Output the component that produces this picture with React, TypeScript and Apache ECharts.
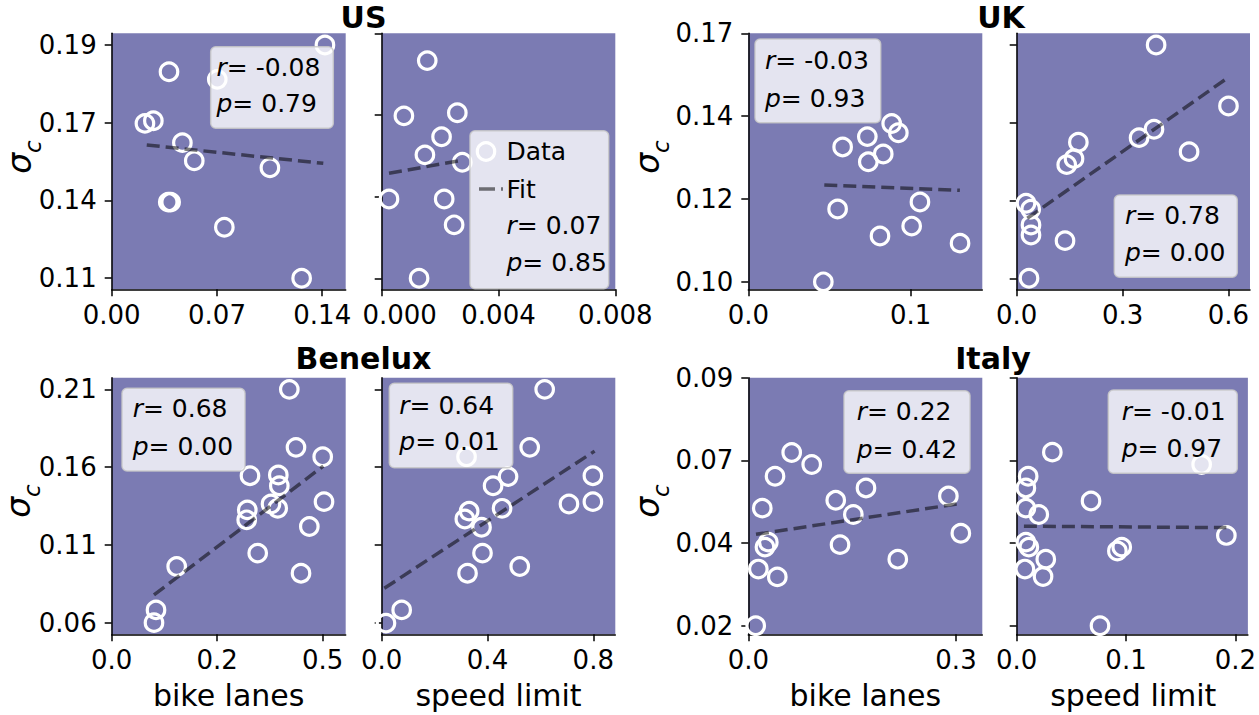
import React, { useEffect, useRef } from "react";
import * as echarts from "echarts";

// ---------------- data ----------------
const TITLES = ["US", "UK", "Benelux", "Italy"];
const X_NAMES = ["bike lanes", "speed limit"];
const Y_NAME_MAIN = "σ";
const Y_NAME_SUB = "c";

const US_BIKE_X = [0.1418, 0.0381, 0.0702, 0.0221, 0.0277, 0.047, 0.0549, 0.1052, 0.0376, 0.0392, 0.0749, 0.1263];
const US_BIKE_Y = [0.19, 0.1808, 0.1782, 0.1631, 0.164, 0.1565, 0.1503, 0.1479, 0.1361, 0.1361, 0.1275, 0.11];
const US_SPEED_X = [0.00156, 0.00076, 0.00259, 0.00205, 0.00148, 0.00276, 0.00025, 0.00214, 0.00248, 0.00128];
const US_SPEED_Y = [0.1811, 0.1631, 0.1641, 0.1563, 0.1504, 0.148, 0.136, 0.136, 0.1276, 0.1102];
const UK_BIKE_X = [0.0581, 0.0733, 0.0883, 0.0924, 0.0831, 0.0739, 0.055, 0.1057, 0.1006, 0.0811, 0.0462, 0.1304];
const UK_BIKE_Y = [0.138, 0.1409, 0.1446, 0.142, 0.136, 0.1338, 0.1205, 0.1225, 0.1157, 0.1129, 0.1, 0.1109];
const UK_SPEED_X = [0.395, 0.6, 0.3467, 0.389, 0.4884, 0.1747, 0.1624, 0.1417, 0.0264, 0.0397, 0.0405, 0.0405, 0.1369, 0.0349];
const UK_SPEED_Y = [0.17, 0.1517, 0.1422, 0.1447, 0.138, 0.1408, 0.1359, 0.1341, 0.1225, 0.1207, 0.116, 0.113, 0.1113, 0.1];
const BNL_BIKE_X = [0.4209, 0.4367, 0.5, 0.3277, 0.3948, 0.3972, 0.3775, 0.3934, 0.5031, 0.3213, 0.3199, 0.4683, 0.346, 0.4486, 0.154, 0.105, 0.1002];
const BNL_BIKE_Y = [0.21, 0.1727, 0.1667, 0.1545, 0.1549, 0.148, 0.1363, 0.1335, 0.1378, 0.1325, 0.1261, 0.1218, 0.1047, 0.0918, 0.0961, 0.0682, 0.06];
const BNL_SPEED_X = [0.6162, 0.5596, 0.3208, 0.7985, 0.4777, 0.4211, 0.7985, 0.708, 0.4551, 0.3306, 0.3143, 0.3774, 0.3811, 0.5219, 0.3245, 0.0755, 0.0162];
const BNL_SPEED_Y = [0.21, 0.1727, 0.1667, 0.1545, 0.1539, 0.148, 0.1378, 0.1363, 0.1335, 0.1317, 0.1266, 0.1213, 0.1047, 0.0961, 0.0918, 0.0682, 0.0597];
const IT_BIKE_X = [0.0627, 0.0916, 0.0386, 0.0202, 0.17, 0.1263, 0.1517, 0.289, 0.0289, 0.0241, 0.1325, 0.2159, 0.0145, 0.0419, 0.0107, 0.307];
const IT_BIKE_Y = [0.0689, 0.0655, 0.0622, 0.0532, 0.0589, 0.0554, 0.0514, 0.0566, 0.0436, 0.0422, 0.0429, 0.0388, 0.036, 0.0338, 0.02, 0.0461];
const IT_SPEED_X = [0.0326, 0.1692, 0.0105, 0.0084, 0.068, 0.0084, 0.0202, 0.1918, 0.0084, 0.0111, 0.0961, 0.0921, 0.0266, 0.0075, 0.0241, 0.0762];
const IT_SPEED_Y = [0.069, 0.0655, 0.0622, 0.0589, 0.0552, 0.0532, 0.0514, 0.0455, 0.0436, 0.0422, 0.0422, 0.0411, 0.0388, 0.036, 0.0339, 0.02];

// fit line end points [x1, y1, x2, y2]
const US_BIKE_FIT = [0.0233, 0.1557, 0.1407, 0.1494];
const US_SPEED_FIT = [0.00025, 0.1444, 0.00279, 0.1487];
const UK_BIKE_FIT = [0.0468, 0.1273, 0.1303, 0.1258];
const UK_SPEED_FIT = [0.03, 0.118, 0.6026, 0.1605];
const BNL_BIKE_FIT = [0.1002, 0.0778, 0.5014, 0.1607];
const BNL_SPEED_FIT = [0.0098, 0.0821, 0.805, 0.1703];
const IT_BIKE_FIT = [0.0111, 0.0458, 0.3058, 0.0545];
const IT_SPEED_FIT = [0.0066, 0.0481, 0.1918, 0.0477];

const R_VALUES = ["-0.08", "0.07", "-0.03", "0.78", "0.68", "0.64", "0.22", "-0.01"];
const P_VALUES = ["0.79", "0.85", "0.93", "0.00", "0.00", "0.01", "0.42", "0.97"];

const X_TICKS = [[0, 0.07, 0.14], [0, 0.004, 0.008], [0, 0.1], [0, 0.3, 0.6], [0, 0.25, 0.5], [0, 0.4, 0.8], [0, 0.3], [0, 0.1, 0.2]];
const X_TICK_LABELS = [["0.00", "0.07", "0.14"], ["0.000", "0.004", "0.008"], ["0.0", "0.1"], ["0.0", "0.3", "0.6"], ["0.0", "0.2", "0.5"], ["0.0", "0.4", "0.8"], ["0.0", "0.3"], ["0.0", "0.1", "0.2"]];
const US_Y_TICKS = [0.11, 0.13667, 0.16333, 0.19];
const US_Y_LABELS = ["0.11", "0.14", "0.17", "0.19"];
const UK_Y_TICKS = [0.1, 0.12333, 0.14667, 0.17];
const UK_Y_LABELS = ["0.10", "0.12", "0.14", "0.17"];
const BNL_Y_TICKS = [0.06, 0.11, 0.16, 0.21];
const BNL_Y_LABELS = ["0.06", "0.11", "0.16", "0.21"];
const IT_Y_TICKS = [0.02, 0.04333, 0.06667, 0.09];
const IT_Y_LABELS = ["0.02", "0.04", "0.07", "0.09"];

const X_MIN = [0, 0, 0, 0, 0, 0, 0, 0];
const X_MAX = [0.1556, 0.008, 0.1441, 0.661, 0.5545, 0.8832, 0.338, 0.2115];
const Y_MIN = [0.1062, 0.1066, 0.0979, 0.0967, 0.0525, 0.0525, 0.0176, 0.0176];
const Y_MAX = [0.194, 0.19, 0.17, 0.1735, 0.2175, 0.2175, 0.09, 0.09];

// ---------------- layout ----------------
const FONT = "DejaVu Sans";
const BG = "#7b7bb3";
const FIT_COLOR = "rgba(0,0,0,0.52)";

const GRIDS = [
  { left: 111.7, top: 33.3, width: 234, height: 256 },
  { left: 381.7, top: 33.3, width: 233.6, height: 256 },
  { left: 748.3, top: 33.3, width: 234, height: 256 },
  { left: 1016.7, top: 33.3, width: 233.3, height: 256 },
  { left: 111.7, top: 377.7, width: 234, height: 256.6 },
  { left: 381.7, top: 377.7, width: 233.6, height: 256.6 },
  { left: 748.3, top: 377.7, width: 234, height: 256.6 },
  { left: 1016.7, top: 377.7, width: 233.3, height: 256.6 },
];

// annotation boxes: [x, y, w, h, textX, rY, pY]
const BOXES = [
  [210.7, 46.7, 122.6, 81.6, 216.5, 67.7, 103.3],
  null,
  [755, 39, 125.7, 83.7, 765, 60, 98.3],
  [1114.3, 195, 123, 82.3, 1125, 215, 252.3],
  [122, 388.3, 123, 82.7, 132.7, 408.3, 446],
  [389.3, 383.3, 123.4, 84.4, 399.3, 405, 441.7],
  [844, 390.7, 126, 82.6, 856.7, 411.7, 449],
  [1108.3, 390, 129, 83.3, 1121.7, 411.7, 448.3],
];

const TITLE_POS = [[363.5, 17.5], [1001, 17.5], [363.5, 358.5], [993, 358.5]];
const SIGMA_POS = [[19, 157], [647, 157], [18, 501], [647, 501]];
const XNAME_POS = [[228.7, 695], [498.5, 695], [865.3, 695], [1133.3, 695]];

export default function App() {
  const ref = useRef<HTMLDivElement>(null);

  useEffect(() => {
    if (!ref.current) return;
    const chart = echarts.init(ref.current, undefined, { renderer: "svg" });

    const xs = [US_BIKE_X, US_SPEED_X, UK_BIKE_X, UK_SPEED_X, BNL_BIKE_X, BNL_SPEED_X, IT_BIKE_X, IT_SPEED_X];
    const ys = [US_BIKE_Y, US_SPEED_Y, UK_BIKE_Y, UK_SPEED_Y, BNL_BIKE_Y, BNL_SPEED_Y, IT_BIKE_Y, IT_SPEED_Y];
    const fits = [US_BIKE_FIT, US_SPEED_FIT, UK_BIKE_FIT, UK_SPEED_FIT, BNL_BIKE_FIT, BNL_SPEED_FIT, IT_BIKE_FIT, IT_SPEED_FIT];
    const yTicks = [US_Y_TICKS, US_Y_TICKS, UK_Y_TICKS, UK_Y_TICKS, BNL_Y_TICKS, BNL_Y_TICKS, IT_Y_TICKS, IT_Y_TICKS];
    const yLabels = [US_Y_LABELS, US_Y_LABELS, UK_Y_LABELS, UK_Y_LABELS, BNL_Y_LABELS, BNL_Y_LABELS, IT_Y_LABELS, IT_Y_LABELS];

    const lookup = (ticks: number[], labels: string[], shiftFirst = false) => (v: number) => {
      for (let i = 0; i < ticks.length; i++) {
        if (Math.abs(ticks[i] - v) < 1e-6) return shiftFirst && i === 0 ? `{sh|${labels[i]}}` : labels[i];
      }
      return "";
    };

    const axisCommon = {
      type: "value",
      axisLine: { show: true, onZero: false, lineStyle: { color: "#000", width: 1.5 } },
      splitLine: { show: false },
    };

    const xAxis = GRIDS.map((_, i) => ({
      ...axisCommon,
      gridIndex: i,
      min: X_MIN[i],
      max: X_MAX[i],
      axisTick: { show: true, length: 7, lineStyle: { color: "#000", width: 1.5 }, customValues: X_TICKS[i] },
      axisLabel: {
        show: true,
        customValues: X_TICKS[i],
        formatter: lookup(X_TICKS[i], X_TICK_LABELS[i], i === 1),
        fontSize: 26,
        fontFamily: FONT,
        color: "#000",
        margin: 13,
        rich: { sh: { fontSize: 26, fontFamily: FONT, color: "#000", padding: [0, 0, 0, 36] } },
      },
    }));

    const yAxis = GRIDS.map((_, i) => ({
      ...axisCommon,
      gridIndex: i,
      min: Y_MIN[i],
      max: Y_MAX[i],
      axisTick: { show: true, length: 7, lineStyle: { color: "#000", width: 1.5 }, customValues: yTicks[i] },
      axisLabel: {
        show: i % 2 === 0,
        customValues: yTicks[i],
        formatter: lookup(yTicks[i], yLabels[i]),
        fontSize: 26,
        fontFamily: FONT,
        color: "#000",
        margin: 15,
      },
    }));

    const series: any[] = [];
    GRIDS.forEach((_, i) => {
      series.push({
        type: "scatter",
        xAxisIndex: i,
        yAxisIndex: i,
        data: xs[i].map((x, j) => [x, ys[i][j]]),
        symbol: "circle",
        symbolSize: 17.5,
        itemStyle: { color: "rgba(0,0,0,0)", borderColor: "#ffffff", borderWidth: 3.2, opacity: 1 },
        z: 2,
        silent: true,
      });
      const f = fits[i];
      series.push({
        type: "line",
        xAxisIndex: i,
        yAxisIndex: i,
        data: [[f[0], f[1]], [f[2], f[3]]],
        symbol: "none",
        lineStyle: { color: FIT_COLOR, width: 3.5, type: [13, 6] },
        z: 3,
        silent: true,
      });
    });

    const graphic: any[] = [];
    const textStyle = (text: string, extra: any = {}) => ({
      text,
      fontSize: 25,
      fontFamily: FONT,
      fill: "#000",
      verticalAlign: "middle",
      rich: { i: { fontStyle: "italic", fontSize: 25, fontFamily: FONT, fill: "#000" } },
      ...extra,
    });

    BOXES.forEach((b, i) => {
      if (!b) return;
      graphic.push({
        type: "rect",
        z: 100,
        shape: { x: b[0], y: b[1], width: b[2], height: b[3], r: 5 },
        style: { fill: "rgba(255,255,255,0.8)", stroke: "rgba(200,200,200,0.85)", lineWidth: 1.5 },
      });
      graphic.push({ type: "text", z: 101, x: b[4], y: b[5], style: textStyle(`{i|r}= ${R_VALUES[i]}`) });
      graphic.push({ type: "text", z: 101, x: b[4], y: b[6], style: textStyle(`{i|p}= ${P_VALUES[i]}`) });
    });

    // legend of the US speed-limit panel
    graphic.push({
      type: "rect",
      z: 100,
      shape: { x: 470, y: 130.7, width: 138.7, height: 158, r: 5 },
      style: { fill: "rgba(255,255,255,0.8)", stroke: "rgba(200,200,200,0.85)", lineWidth: 1.5 },
    });
    graphic.push({
      type: "circle",
      z: 101,
      shape: { cx: 486, cy: 151.5, r: 8.7 },
      style: { fill: "rgba(0,0,0,0)", stroke: "#fff", lineWidth: 3.2 },
    });
    graphic.push({
      type: "line",
      z: 101,
      shape: { x1: 479, y1: 189, x2: 503, y2: 189 },
      style: { stroke: FIT_COLOR, lineWidth: 3.5, lineDash: [16, 6] },
    });
    graphic.push({ type: "text", z: 101, x: 506.5, y: 151.5, style: textStyle("Data") });
    graphic.push({ type: "text", z: 101, x: 506.5, y: 189, style: textStyle("Fit") });
    graphic.push({ type: "text", z: 101, x: 506.5, y: 225.5, style: textStyle(`{i|r}= ${R_VALUES[1]}`) });
    graphic.push({ type: "text", z: 101, x: 506.5, y: 262.5, style: textStyle(`{i|p}= ${P_VALUES[1]}`) });

    TITLES.forEach((t, i) => {
      graphic.push({
        type: "text",
        z: 101,
        x: TITLE_POS[i][0],
        y: TITLE_POS[i][1],
        style: { text: t, fontSize: 30, fontWeight: "bold", fontFamily: FONT, fill: "#000", align: "center", verticalAlign: "middle" },
      });
    });

    SIGMA_POS.forEach((p) => {
      graphic.push({
        type: "text",
        z: 101,
        x: p[0],
        y: p[1],
        rotation: Math.PI / 2,
        style: {
          text: `{s|${Y_NAME_MAIN}}{c|${Y_NAME_SUB}}`,
          align: "center",
          verticalAlign: "middle",
          rich: {
            s: { fontSize: 33, fontStyle: "italic", fontFamily: FONT, fill: "#000", verticalAlign: "bottom", lineHeight: 34 },
            c: { fontSize: 23, fontStyle: "italic", fontFamily: FONT, fill: "#000", verticalAlign: "bottom", lineHeight: 24, padding: [0, 0, -8, 0] },
          },
        },
      });
    });

    XNAME_POS.forEach((p, i) => {
      graphic.push({
        type: "text",
        z: 101,
        x: p[0],
        y: p[1],
        style: { text: X_NAMES[i % 2], fontSize: 30, fontFamily: FONT, fill: "#000", align: "center", verticalAlign: "middle" },
      });
    });

    chart.setOption({
      animation: false,
      backgroundColor: "#ffffff",
      grid: GRIDS.map((g) => ({ ...g, show: true, backgroundColor: BG, borderWidth: 0, containLabel: false })),
      xAxis,
      yAxis,
      series,
      graphic,
    });

    return () => chart.dispose();
  }, []);

  return <div ref={ref} style={{ position: "fixed", left: 0, top: 0, width: 1259, height: 715 }} />;
}
